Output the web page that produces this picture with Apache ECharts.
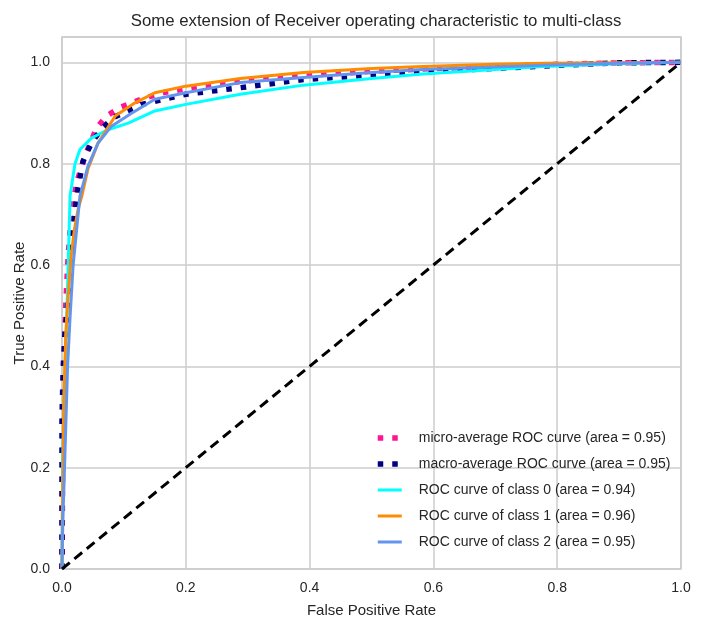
<!DOCTYPE html>
<html>
<head>
<meta charset="utf-8">
<script src="https://cdn.jsdelivr.net/npm/echarts@6/dist/echarts.min.js"></script>
<style>html,body{margin:0;padding:0;background:#fff}#c{width:703px;height:621px}</style>
</head>
<body>
<div id="c"></div>
<script>
var xTicks = [0, 0.2, 0.4, 0.6, 0.8, 1.0];
var yTicks = [0, 0.2, 0.4, 0.6, 0.8, 1.0];

var microFpr = [0, 0.001, 0.003, 0.006, 0.010, 0.015, 0.020, 0.026, 0.037, 0.056, 0.072, 0.094, 0.13, 0.163, 0.22, 0.288, 0.39, 0.5, 0.583, 0.7, 0.8, 0.9, 1.0];
var microTpr = [0, 0.20, 0.37, 0.52, 0.62, 0.70, 0.74, 0.772, 0.815, 0.871, 0.894, 0.911, 0.928, 0.94, 0.952, 0.962, 0.974, 0.982, 0.987, 0.992, 0.996, 0.999, 1.0];

var macroFpr = [0, 0.0, 0.002, 0.005, 0.009, 0.013, 0.018, 0.024, 0.034, 0.048, 0.065, 0.083, 0.129, 0.2, 0.288, 0.39, 0.5, 0.583, 0.7, 0.8, 0.9, 1.0];
var macroTpr = [0, 0.30, 0.40, 0.47, 0.518, 0.577, 0.664, 0.74, 0.805, 0.842, 0.87, 0.891, 0.917, 0.937, 0.950, 0.966, 0.975, 0.981, 0.988, 0.994, 0.999, 1.0];

var c0Fpr = [0, 0.001, 0.003, 0.005, 0.008, 0.010, 0.013, 0.021, 0.029, 0.048, 0.074, 0.107, 0.15, 0.2, 0.288, 0.39, 0.5, 0.583, 0.7, 0.777, 0.9, 1.0];
var c0Tpr = [0, 0.20, 0.33, 0.40, 0.51, 0.60, 0.736, 0.80, 0.828, 0.851, 0.867, 0.88, 0.904, 0.917, 0.937, 0.955, 0.968, 0.977, 0.986, 0.992, 0.997, 1.0];

var c1Fpr = [0, 0.001, 0.003, 0.006, 0.010, 0.015, 0.020, 0.026, 0.032, 0.042, 0.058, 0.086, 0.118, 0.15, 0.2, 0.288, 0.39, 0.5, 0.583, 0.7, 0.78, 0.9, 1.0];
var c1Tpr = [0, 0.15, 0.33, 0.46, 0.54, 0.62, 0.67, 0.71, 0.736, 0.79, 0.84, 0.894, 0.92, 0.94, 0.953, 0.968, 0.98, 0.988, 0.992, 0.996, 0.998, 0.999, 1.0];

var c2Fpr = [0, 0.0005, 0.002, 0.004, 0.009, 0.013, 0.018, 0.029, 0.042, 0.058, 0.08, 0.113, 0.15, 0.2, 0.288, 0.39, 0.5, 0.583, 0.7, 0.8, 0.9, 1.0];
var c2Tpr = [0, 0.05, 0.12, 0.196, 0.40, 0.496, 0.60, 0.736, 0.795, 0.84, 0.874, 0.90, 0.927, 0.94, 0.96, 0.97, 0.98, 0.986, 0.991, 0.995, 0.998, 1.0];

var diagFpr = [0, 1];
var diagTpr = [0, 1];

var names = [
  'micro-average ROC curve (area = 0.95)',
  'macro-average ROC curve (area = 0.95)',
  'ROC curve of class 0 (area = 0.94)',
  'ROC curve of class 1 (area = 0.96)',
  'ROC curve of class 2 (area = 0.95)'
];
var titleText = 'Some extension of Receiver operating characteristic to multi-class';

function pairs(a, b) { return a.map(function (v, i) { return [v, b[i]]; }); }

var FONT = 'Liberation Sans';
var chart = echarts.init(document.getElementById('c'), null, {renderer: 'canvas'});

var styles = [
  {color: '#ff1493', width: 5.5, type: [5.5, 9]},
  {color: '#000080', width: 5.5, type: [5.5, 9]},
  {color: '#00ffff', width: 3, type: 'solid'},
  {color: '#ff8c00', width: 3, type: 'solid'},
  {color: '#6495ed', width: 3, type: 'solid'}
];

function lineSeries(name, fpr, tpr, st) {
  return {
    name: name, type: 'line', data: pairs(fpr, tpr), showSymbol: false, symbol: 'none',
    smooth: false, animation: false,
    lineStyle: {color: st.color, width: st.width, type: st.type, cap: 'butt'},
    itemStyle: {color: st.color}
  };
}

var series = [
  lineSeries(names[0], microFpr, microTpr, styles[0]),
  lineSeries(names[1], macroFpr, macroTpr, styles[1]),
  lineSeries(names[2], c0Fpr, c0Tpr, styles[2]),
  lineSeries(names[3], c1Fpr, c1Tpr, styles[3]),
  lineSeries(names[4], c2Fpr, c2Tpr, styles[4]),
  lineSeries('diag', diagFpr, diagTpr, {color: '#000000', width: 3, type: [10, 6]})
];

var legendData = names.map(function (n, i) {
  return {name: n, itemStyle: {opacity: 0},
    lineStyle: {color: styles[i].color, width: styles[i].width, type: styles[i].type, cap: 'butt'}};
});

chart.setOption({
  backgroundColor: '#ffffff',
  animation: false,
  title: {
    text: titleText, left: 371, top: 8, textAlign: 'center',
    textStyle: {fontFamily: FONT, fontSize: 16.8, fontWeight: 'normal', color: '#262626'}
  },
  grid: {left: 62, right: 22, top: 37, bottom: 52, show: true, borderColor: '#cccccc', borderWidth: 1.5,
    containLabel: false, outerBoundsMode: 'none'},
  legend: {
    data: legendData, orient: 'vertical', left: 370, top: 426,
    itemWidth: 24, itemHeight: 14, itemGap: 12,
    itemStyle: {opacity: 0},
    textStyle: {fontFamily: FONT, fontSize: 14, color: '#262626', padding: [0, 0, 0, 12]}
  },
  xAxis: {
    type: 'value', min: 0, max: 1, interval: 0.2,
    name: 'False Positive Rate', nameLocation: 'middle', nameGap: 34, nameMoveOverlap: false,
    nameTextStyle: {fontFamily: FONT, fontSize: 15, color: '#262626'},
    axisLine: {show: false}, axisTick: {show: false},
    axisLabel: {fontFamily: FONT, fontSize: 14, color: '#262626', margin: 12,
      formatter: function (v) { return v.toFixed(1); }},
    splitLine: {show: true, lineStyle: {color: '#cccccc', width: 1.5}}
  },
  yAxis: {
    type: 'value', min: 0, max: 1.05, interval: 0.2,
    name: 'True Positive Rate', nameLocation: 'middle', nameGap: 35, nameMoveOverlap: false,
    nameTextStyle: {fontFamily: FONT, fontSize: 15, color: '#262626'},
    axisLine: {show: false}, axisTick: {show: false},
    axisLabel: {fontFamily: FONT, fontSize: 14, color: '#262626', margin: 12,
      showMaxLabel: false,
      formatter: function (v) {
        var ok = yTicks.some(function (t) { return Math.abs(t - v) < 1e-6; });
        return ok ? v.toFixed(1) : '';
      }},
    splitLine: {show: true, lineStyle: {color: '#cccccc', width: 1.5}}
  },
  series: series
});
</script>
</body>
</html>
